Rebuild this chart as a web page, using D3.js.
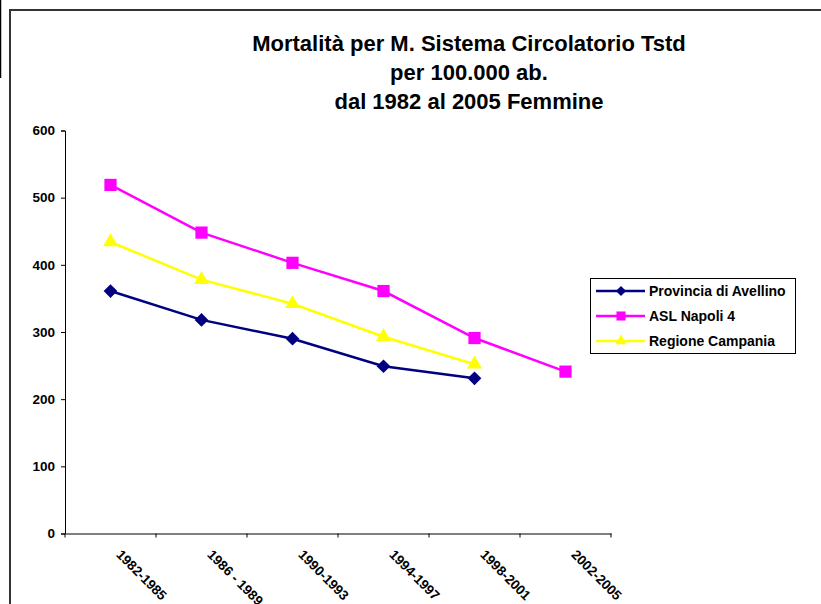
<!DOCTYPE html>
<html>
<head>
<meta charset="utf-8">
<script src="https://cdn.jsdelivr.net/npm/d3@7"></script>
<style>
  body { margin: 0; background: #fff; }
  svg text { font-family: Arial, "Liberation Sans", sans-serif; font-weight: bold; fill: #000; }
</style>
</head>
<body>
<svg id="chart" width="821" height="604"></svg>
<script>
const periods = ["1982-1985", "1986 - 1989", "1990-1993", "1994-1997", "1998-2001", "2002-2005"];
const avellino = [361, 318, 290, 249, 231, null];
const napoli4 = [519, 448, 403, 361, 291, 241];
const campania = [434, 378, 342, 293, 252, null];
const yTicks = [0, 100, 200, 300, 400, 500, 600];
const titleLines = ["Mortalità per M. Sistema Circolatorio Tstd", "per 100.000 ab.", "dal 1982 al 2005 Femmine"];

const series = [
  { name: "Provincia di Avellino", values: avellino, color: "#000080", symbol: d3.symbolDiamond2, size: 120 },
  { name: "ASL Napoli 4", values: napoli4, color: "#ff00ff", symbol: d3.symbolSquare2, size: 190 },
  { name: "Regione Campania", values: campania, color: "#ffff00", symbol: d3.symbolTriangle2, size: 160 }
];

const svg = d3.select("#chart");

// outer chart frame (runs off the picture on the right and bottom)
svg.append("rect")
  .attr("x", 10).attr("y", 10)
  .attr("width", 900).attr("height", 700)
  .attr("fill", "none").attr("stroke", "#333").attr("stroke-width", 2);
svg.append("line")
  .attr("x1", 0.5).attr("x2", 0.5).attr("y1", 0).attr("y2", 78)
  .attr("stroke", "#000").attr("stroke-width", 1.5);

const plot = { left: 65, right: 611, top: 130.5, bottom: 533.5 };

const x = d3.scaleBand().domain(periods).range([plot.left, plot.right]);
const y = d3.scaleLinear().domain([0, 600]).range([plot.bottom, plot.top]);

// title
svg.append("text")
  .attr("x", 469).attr("y", 51)
  .attr("text-anchor", "middle")
  .style("font-size", "22px")
  .selectAll("tspan")
  .data(titleLines)
  .join("tspan")
  .attr("x", 469)
  .attr("dy", (d, i) => (i ? 29 : 0))
  .text(d => d);

// y axis
const yAxis = svg.append("g")
  .attr("transform", `translate(${plot.left},0)`)
  .call(d3.axisLeft(y).tickValues(yTicks).tickSize(4).tickPadding(6));
yAxis.select(".domain").attr("stroke", "#000");
yAxis.selectAll(".tick line").attr("stroke", "#000");
yAxis.selectAll("text")
  .style("font-size", "13.5px")
  .style("font-family", "Arial, 'Liberation Sans', sans-serif")
  .style("font-weight", "bold");

// x axis
const xAxis = svg.append("g")
  .attr("transform", `translate(0,${plot.bottom})`)
  .call(d3.axisBottom(x).tickSize(0).tickFormat(""));
xAxis.select(".domain").attr("stroke", "#555").attr("stroke-width", 1.5);
xAxis.selectAll(".tick").remove();
xAxis.selectAll("line.sep")
  .data(d3.range(periods.length + 1))
  .join("line")
  .attr("class", "sep")
  .attr("x1", i => plot.left + i * x.step())
  .attr("x2", i => plot.left + i * x.step())
  .attr("y1", 0).attr("y2", 4)
  .attr("stroke", "#000");

svg.append("g")
  .selectAll("text")
  .data(periods)
  .join("text")
  .attr("transform", d => `translate(${x(d) + x.bandwidth() / 2 + 5},${plot.bottom + 22}) rotate(45)`)
  .style("font-size", "13.5px")
  .text(d => d);

// lines and markers
const line = d3.line()
  .defined(d => d.v != null)
  .x(d => x(d.p) + x.bandwidth() / 2)
  .y(d => y(d.v));

series.forEach(s => {
  const pts = periods.map((p, i) => ({ p, v: s.values[i] }));
  svg.append("path")
    .datum(pts)
    .attr("d", line)
    .attr("fill", "none")
    .attr("stroke", s.color)
    .attr("stroke-width", 2.5);
  svg.append("g")
    .selectAll("path")
    .data(pts.filter(d => d.v != null))
    .join("path")
    .attr("d", d3.symbol(s.symbol, s.size))
    .attr("transform", d => `translate(${x(d.p) + x.bandwidth() / 2},${y(d.v)})`)
    .attr("fill", s.color);
});

// legend
const legend = svg.append("g").attr("transform", "translate(590,278)");
legend.append("rect")
  .attr("x", 0.5).attr("y", 0.5)
  .attr("width", 205).attr("height", 75)
  .attr("fill", "#fff").attr("stroke", "#000");
const item = legend.selectAll("g.item")
  .data(series)
  .join("g")
  .attr("class", "item")
  .attr("transform", (d, i) => `translate(0,${13 + i * 25})`);
item.append("line")
  .attr("x1", 6).attr("x2", 55)
  .attr("stroke", d => d.color).attr("stroke-width", 2.5);
item.append("path")
  .attr("d", d => d3.symbol(d.symbol, d.size * 0.55)())
  .attr("transform", "translate(31,0)")
  .attr("fill", d => d.color);
item.append("text")
  .attr("x", 59).attr("dy", "0.35em")
  .style("font-size", "14px")
  .text(d => d.name);
</script>
</body>
</html>
